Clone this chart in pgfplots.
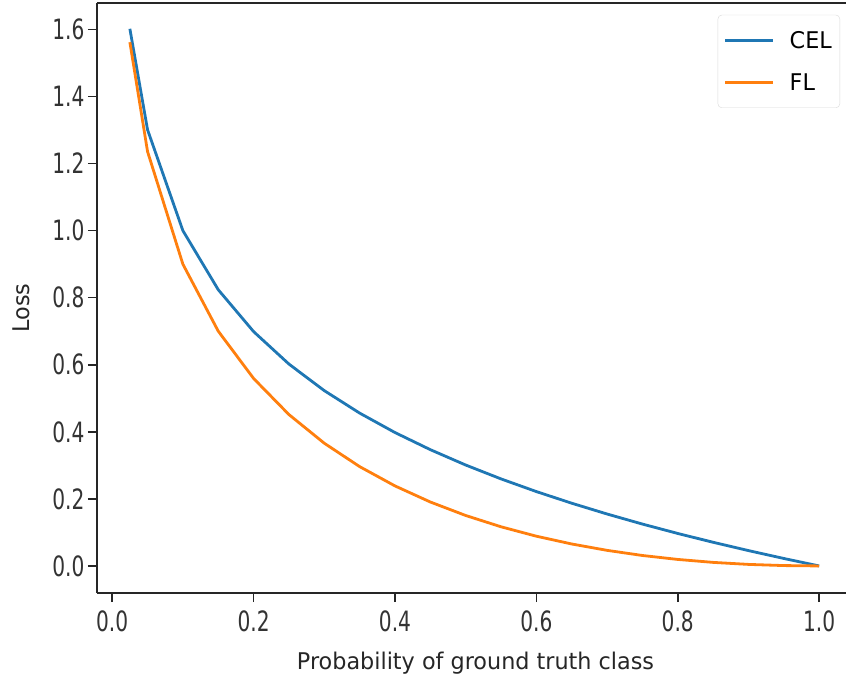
\documentclass[border=0pt]{standalone}
\usepackage{pgfplots}
\pgfplotsset{compat=1.18}
\usepackage{fontspec}
\setmainfont{DejaVu Sans}[FakeStretch=0.97]
\newfontfamily\tickfont{DejaVu Sans}[FakeStretch=0.72]
\usetikzlibrary{calc}
\definecolor{mplblue}{HTML}{1F77B4}
\definecolor{mplorange}{HTML}{FF7F0E}
\begin{document}
\begin{tikzpicture}
\begin{axis}[
  scale only axis,
  width=749bp, height=590bp,
  xmin=-0.0215, xmax=1.038,
  ymin=-0.0807, ymax=1.679,
  axis x line*=box,
  axis y line*=left,
  axis line style={line width=1.5bp, black!85},
  xtick={0,0.2,0.4,0.6,0.8,1.0},
  ytick={0,0.2,0.4,0.6,0.8,1.0,1.2,1.4,1.6},
  xtick pos=bottom,
  tick align=outside,
  major tick length=9bp,
  tick style={line width=1.5bp, black!85},
  xticklabel style={yshift=-5bp, /pgf/number format/.cd, fixed, fixed zerofill, precision=1},
  yticklabel style={/pgf/number format/.cd, fixed, fixed zerofill, precision=1},
  /pgf/number format/assume math mode=true,
  ticklabel style={font=\tickfont\fontsize{28bp}{30bp}\selectfont, text=black!80},
  label style={font=\fontsize{23bp}{26bp}\selectfont, text=black!85},
  xlabel={Probability of ground truth class},
  ylabel={Loss},
  xlabel style={at={(rel axis cs:0.5,0)}, anchor=base, yshift=-76bp, xshift=4bp},
  ylabel style={at={(rel axis cs:0,0.483)}, anchor=base, yshift=67bp},
  legend style={at={(rel axis cs:0.992,0.980)}, anchor=north east, draw=black!15, rounded corners=4bp,
    font=\fontsize{23bp}{26bp}\selectfont, inner xsep=6bp, inner ysep=14bp, row sep=20bp},
  legend cell align=left,
  legend image code/.code={\draw[#1, line width=2.8bp] (0bp,0bp) -- (48bp,0bp); \path (61bp,0bp);},
  clip=true,
]
\addplot[mplblue, line width=2.8bp] coordinates {
(0.025,1.6021) (0.05,1.3010) (0.10,1.0000) (0.15,0.8239) (0.20,0.6990)
(0.25,0.6021) (0.30,0.5229) (0.35,0.4559) (0.40,0.3979) (0.45,0.3468)
(0.50,0.3010) (0.55,0.2596) (0.60,0.2218) (0.65,0.1871) (0.70,0.1549)
(0.75,0.1249) (0.80,0.0969) (0.85,0.0706) (0.90,0.0458) (0.95,0.0223)
(1.00,0.0000)};
\addlegendentry{CEL}
\addplot[mplorange, line width=2.8bp] coordinates {
(0.025,1.5620) (0.05,1.2360) (0.10,0.9000) (0.15,0.7003) (0.20,0.5592)
(0.25,0.4515) (0.30,0.3660) (0.35,0.2963) (0.40,0.2387) (0.45,0.1907)
(0.50,0.1505) (0.55,0.1168) (0.60,0.0887) (0.65,0.0655) (0.70,0.0465)
(0.75,0.0312) (0.80,0.0194) (0.85,0.0106) (0.90,0.0046) (0.95,0.0011)
(1.00,0.0000)};
\addlegendentry{FL}
\end{axis}
\pgfresetboundingbox
\path[use as bounding box] ($(current axis.south west)+(-97bp,-91bp)$) rectangle ($(current axis.north east)+(0bp,3bp)$);
\end{tikzpicture}
\end{document}
